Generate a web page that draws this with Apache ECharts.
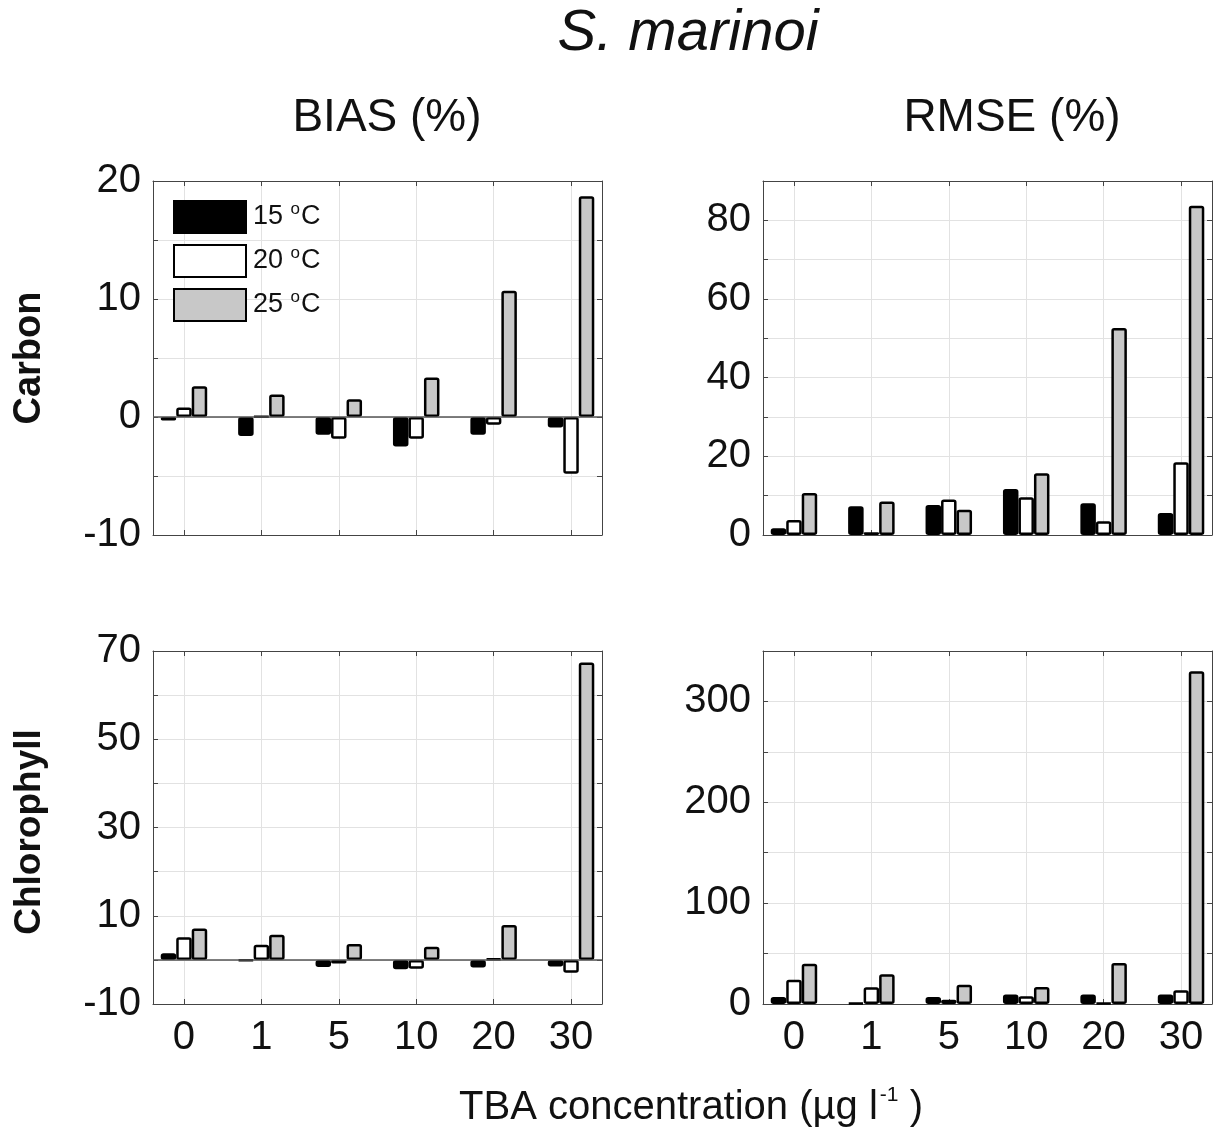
<!DOCTYPE html>
<html>
<head>
<meta charset="utf-8">
<title>S. marinoi – BIAS and RMSE</title>
<script src="https://cdn.jsdelivr.net/npm/echarts@6/dist/echarts.min.js"></script>
<style>
  html, body { margin: 0; padding: 0; background: #fff; }
  #chart { width: 1229px; height: 1137px; }
</style>
</head>
<body>
<div id="chart"></div>
<script>
// TBA concentrations (µg l-1) on the x axis
const concentrations = ['0', '1', '5', '10', '20', '30'];
const temperatures = ['15', '20', '25'];

// Carbon, BIAS (%)
const carbonBias15 = [-0.3, -1.6, -1.5, -2.5, -1.5, -0.9];
const carbonBias20 = [0.8, 0.05, -1.85, -1.85, -0.65, -4.8];
const carbonBias25 = [2.6, 1.9, 1.5, 3.35, 10.7, 18.7];

// Carbon, RMSE (%)
const carbonRmse15 = [1.7, 7.3, 7.6, 11.7, 8.1, 5.6];
const carbonRmse20 = [3.8, 0.7, 9.0, 9.6, 3.5, 18.5];
const carbonRmse25 = [10.7, 8.5, 6.4, 15.7, 52.6, 83.7];

// Chlorophyll, BIAS (%)
const chlBias15 = [1.5, -0.2, -1.6, -2.1, -1.7, -1.5];
const chlBias20 = [5.1, 3.4, -0.8, -2.0, 0.3, -2.9];
const chlBias25 = [7.1, 5.7, 3.6, 3.0, 7.9, 67.4];

// Chlorophyll, RMSE (%)
const chlRmse15 = [7, 1.2, 7, 9.3, 9.3, 9.3];
const chlRmse20 = [24, 16.5, 4.3, 7.6, 1.0, 13.6];
const chlRmse25 = [40, 29.5, 19.2, 16.9, 40.7, 330];

const FONT = '"Liberation Sans", Arial, Helvetica, sans-serif';
const BOX = '#444';
const GRID = '#e2e2e2';
const FILLS = ['#000000', '#ffffff', '#c8c8c8'];

// panel boxes: left, top, width, height, y range, y step, label rule
const panels = [
  { left: 153, top: 181, width: 449, height: 354, min: -10, max: 20, step: 5,
    showLabel: v => v % 10 === 0, xLabels: false, zero: true,
    data: [carbonBias15, carbonBias20, carbonBias25] },
  { left: 763, top: 181, width: 449, height: 354, min: 0, max: 90, step: 10,
    showLabel: v => v % 20 === 0, xLabels: false, zero: false,
    data: [carbonRmse15, carbonRmse20, carbonRmse25] },
  { left: 153, top: 651, width: 449, height: 353, min: -10, max: 70, step: 10,
    showLabel: v => (v + 10) % 20 === 0, xLabels: true, zero: true,
    data: [chlBias15, chlBias20, chlBias25] },
  { left: 763, top: 651, width: 449, height: 353, min: 0, max: 350, step: 50,
    showLabel: v => v % 100 === 0, xLabels: true, zero: false,
    data: [chlRmse15, chlRmse20, chlRmse25] }
];

const grid = [], xAxis = [], yAxis = [], series = [];

panels.forEach((p, i) => {
  grid.push({ left: p.left, top: p.top, width: p.width, height: p.height, containLabel: false });

  // bottom x axis: categories placed at 1..6
  xAxis.push({
    type: 'value', gridIndex: i, min: 0.6, max: 6.4, minInterval: 1, maxInterval: 1,
    position: 'bottom',
    axisLine: { show: true, onZero: false, lineStyle: { color: BOX, width: 1 } },
    axisTick: { show: true, inside: true, length: 5, lineStyle: { color: BOX } },
    splitLine: { show: true, lineStyle: { color: GRID, width: 1 } },
    axisLabel: {
      show: p.xLabels, margin: 14, color: '#111', fontSize: 40, fontFamily: FONT,
      formatter: v => (Number.isInteger(v) && v >= 1 && v <= concentrations.length) ? concentrations[v - 1] : ''
    }
  });
  // top x axis: box edge with ticks only
  xAxis.push({
    type: 'value', gridIndex: i, min: 0.6, max: 6.4, minInterval: 1, maxInterval: 1,
    position: 'top',
    axisLine: { show: true, onZero: false, lineStyle: { color: BOX, width: 1 } },
    axisTick: { show: true, inside: true, length: 5, lineStyle: { color: BOX } },
    splitLine: { show: false }, axisLabel: { show: false }
  });
  // left y axis
  yAxis.push({
    type: 'value', gridIndex: i, min: p.min, max: p.max, interval: p.step,
    position: 'left',
    axisLine: { show: true, onZero: false, lineStyle: { color: BOX, width: 1 } },
    axisTick: { show: true, inside: true, length: 5, lineStyle: { color: BOX } },
    splitLine: { show: true, lineStyle: { color: GRID, width: 1 } },
    axisLabel: {
      margin: 12, color: '#111', fontSize: 40, fontFamily: FONT,
      formatter: v => p.showLabel(v) ? String(v) : ''
    }
  });
  // right y axis: box edge with ticks only
  yAxis.push({
    type: 'value', gridIndex: i, min: p.min, max: p.max, interval: p.step,
    position: 'right',
    axisLine: { show: true, onZero: false, lineStyle: { color: BOX, width: 1 } },
    axisTick: { show: true, inside: true, length: 5, lineStyle: { color: BOX } },
    splitLine: { show: false }, axisLabel: { show: false }
  });

  p.data.forEach((vals, k) => {
    const s = {
      name: temperatures[k],
      type: 'bar',
      xAxisIndex: 2 * i,
      yAxisIndex: 2 * i,
      barWidth: 15.5,
      barGap: '0%',
      data: vals.map((v, j) => [j + 1, v]),
      itemStyle: { color: FILLS[k], borderColor: '#000', borderWidth: 2.5, borderRadius: 1.5 },
      emphasis: { disabled: true },
      z: 3
    };
    if (p.zero && k === 0) {
      s.markLine = {
        silent: true, symbol: 'none', animation: false,
        label: { show: false },
        lineStyle: { color: '#555', width: 1.5, type: 'solid' },
        data: [{ yAxis: 0 }]
      };
    }
    series.push(s);
  });
});

const chart = echarts.init(document.getElementById('chart'), null, { renderer: 'canvas' });
chart.setOption({
  backgroundColor: '#ffffff',
  animation: false,
  textStyle: { fontFamily: FONT },
  grid, xAxis, yAxis, series,
  legend: {
    data: temperatures,
    orient: 'vertical',
    left: 173, top: 200,
    itemWidth: 72, itemHeight: 32, itemGap: 10,
    icon: 'rect',
    selectedMode: false,
    padding: 0,
    formatter: name => `{n|${name}} {s|o}{n|C}`,
    textStyle: {
      color: '#111', fontSize: 27, fontFamily: FONT, padding: [0, 0, 0, 2],
      rich: {
        n: { fontSize: 27, fontFamily: FONT, color: '#111', lineHeight: 32 },
        s: { fontSize: 17, fontFamily: FONT, color: '#111', lineHeight: 32, verticalAlign: 'top', padding: [0, 1, 16, 0] }
      }
    }
  },
  graphic: [
    { type: 'text', x: 688, y: 34, style: {
      text: 'S. marinoi', font: 'italic 58px ' + FONT, fill: '#111', textAlign: 'center', textVerticalAlign: 'middle' } },
    { type: 'text', x: 387, y: 118, style: {
      text: 'BIAS (%)', font: '46px ' + FONT, fill: '#111', textAlign: 'center', textVerticalAlign: 'middle' } },
    { type: 'text', x: 1012, y: 118, style: {
      text: 'RMSE (%)', font: '46px ' + FONT, fill: '#111', textAlign: 'center', textVerticalAlign: 'middle' } },
    { type: 'text', x: 30, y: 358, rotation: Math.PI / 2, style: {
      text: 'Carbon', font: 'bold 38px ' + FONT, fill: '#111', textAlign: 'center', textVerticalAlign: 'middle' } },
    { type: 'text', x: 30, y: 832, rotation: Math.PI / 2, style: {
      text: 'Chlorophyll', font: 'bold 37px ' + FONT, fill: '#111', textAlign: 'center', textVerticalAlign: 'middle' } },
    { type: 'text', x: 691, y: 1108, style: {
      text: '{a|TBA concentration (µg l}{s|-1}{a| )}',
      textAlign: 'center', textVerticalAlign: 'middle',
      rich: {
        a: { fontSize: 40, fontFamily: FONT, fill: '#111', color: '#111', lineHeight: 46 },
        s: { fontSize: 21, fontFamily: FONT, fill: '#111', color: '#111', lineHeight: 46, verticalAlign: 'top', padding: [0, 0, 16, 2] }
      } } }
  ]
});
</script>
</body>
</html>
